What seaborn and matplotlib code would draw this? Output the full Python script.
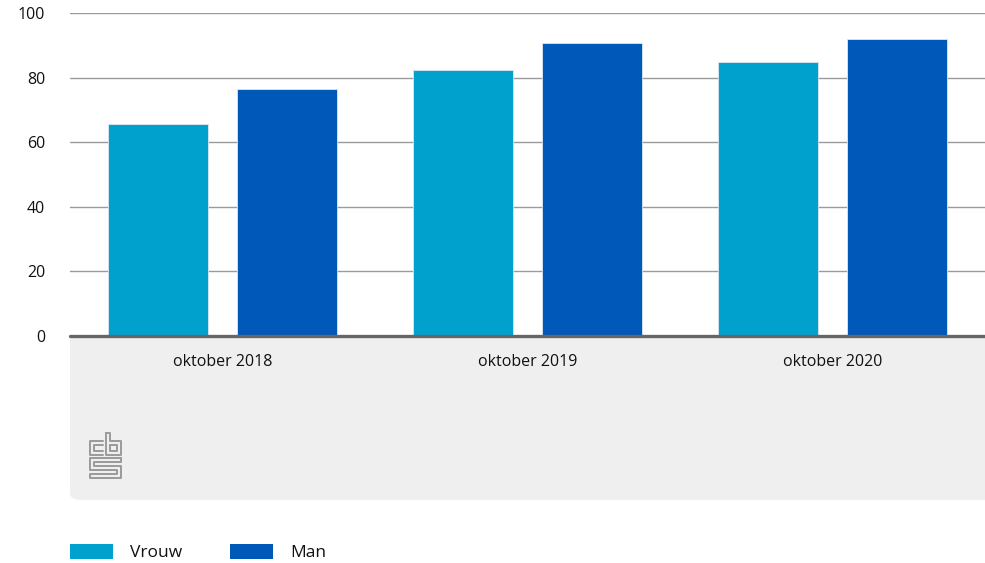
import matplotlib
matplotlib.use("Agg")
import matplotlib.pyplot as plt
import seaborn as sns
import pandas as pd
from matplotlib.patches import FancyBboxPatch, Patch
from matplotlib.lines import Line2D

categories = ["oktober 2018", "oktober 2019", "oktober 2020"]
vrouw = [65.6, 82.3, 84.7]
man = [76.5, 90.8, 91.8]
series = ["Vrouw", "Man"]
yticks = [0, 20, 40, 60, 80, 100]
colors = {"Vrouw": "#00a1cd", "Man": "#0058b8"}

df = pd.DataFrame({
    "periode": categories * 2,
    "geslacht": [series[0]] * 3 + [series[1]] * 3,
    "waarde": vrouw + man,
})

sns.set_theme(style="white")
plt.rcParams["font.family"] = ["Open Sans", "DejaVu Sans"]

W, H = 985, 563
fig = plt.figure(figsize=(W / 100, H / 100), dpi=100)
ax = fig.add_axes([70 / W, 1 - 336 / H, 915 / W, 323 / H])
ax.set_facecolor("white")

# grey panel under the axis
panel = FancyBboxPatch((70 / W, 1 - 500 / H), 1000 / W, (500 - 320) / H,
                       boxstyle="round,pad=0,rounding_size=0.012",
                       transform=fig.transFigure, facecolor="#efefef",
                       edgecolor="none", zorder=-1)
fig.patches.append(panel)

sns.barplot(data=df, x="periode", y="waarde", hue="geslacht",
            palette=colors, saturation=1, width=0.84, gap=0.22, ax=ax,
            edgecolor="#dde8f5", linewidth=0.6, legend=False, zorder=3)

ax.set_xlim(-0.5, 2.5)
ax.set_ylim(0, 100)
ax.set_yticks(yticks)
ax.set_yticklabels([str(t) for t in yticks])
ax.yaxis.grid(True, color="#9a9a9a", linewidth=1)
ax.set_axisbelow(True)
ax.axhline(0, color="#666666", linewidth=2.4, zorder=5, clip_on=False)
for s in ax.spines.values():
    s.set_visible(False)
ax.tick_params(axis="y", length=0, pad=18, labelsize=11.5, labelcolor="#111111")
ax.tick_params(axis="x", length=0, pad=13, labelsize=11.5, labelcolor="#111111")
ax.set_xlabel("")
ax.set_ylabel("")

# simple cbs logo
lc = "#9a9a9a"
def seg(pts):
    xs = [p[0] / W for p in pts]
    ys = [1 - p[1] / H for p in pts]
    fig.lines.append(Line2D(xs, ys, transform=fig.transFigure, color=lc, linewidth=1.4))
# c
seg([(103, 441), (90, 441), (90, 455), (103, 455)])
seg([(103, 445), (94, 445), (94, 451), (103, 451)])
# b
seg([(106, 433), (106, 455), (121, 455), (121, 441), (110, 441), (110, 433), (106, 433)])
seg([(110, 445), (117, 445), (117, 451), (110, 451), (110, 445)])
# S
seg([(121, 458), (90, 458), (90, 470), (117, 470), (117, 474), (90, 474), (90, 478), (121, 478),
     (121, 466), (94, 466), (94, 462), (121, 462), (121, 458)])

handles = [Patch(facecolor=colors[s], edgecolor="none", label=s) for s in series]
fig.legend(handles=handles, loc="lower left", bbox_to_anchor=(54 / W, 1 - 577 / H),
           ncol=2, frameon=False, fontsize=12.5, handlelength=2.5, handleheight=1.0,
           handletextpad=1.0, columnspacing=2.7, labelcolor="#111111")

fig.savefig("out.png", dpi=100)
